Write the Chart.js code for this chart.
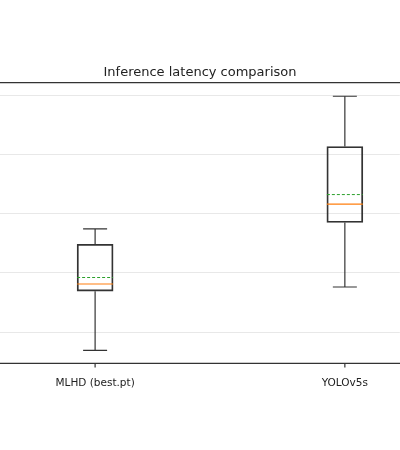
<!DOCTYPE html>
<html><head><meta charset="utf-8">
<script src="https://cdn.jsdelivr.net/npm/chart.js@4/dist/chart.umd.min.js"></script>
<style>html,body{margin:0;padding:0;background:#fff;overflow:hidden}#w{width:426px;height:450px;margin-left:-13px}</style>
</head><body><div id="w"><canvas id="c"></canvas></div>
<script>
const categories = ["MLHD (best.pt)", "YOLOv5s"];
const whiskerLow = [0.69, 1.76];
const q1 = [1.69, 2.85];
const medians = [1.81, 3.16];
const means = [1.92, 3.32];
const q3 = [2.48, 4.13];
const whiskerHigh = [2.74, 4.98];
const yTicks = [1, 2, 3, 4, 5];

const xs = categories.map((_, i) => i);
const seg = (a, b) => { const d = []; xs.forEach(i => { d.push({x:i,y:a[i]},{x:i,y:b[i]},{x:i+0.5,y:null}); }); return d; };
const hw = 0.072;
const meanData = []; xs.forEach(i => { meanData.push({x:i-hw,y:means[i]},{x:i+hw,y:means[i]},{x:i,y:null}); });
const medData = []; xs.forEach(i => { medData.push({x:i-hw,y:medians[i]},{x:i+hw,y:medians[i]},{x:i,y:null}); });
const capData = []; xs.forEach(i => { capData.push({x:i,y:whiskerLow[i]},{x:i,y:whiskerHigh[i]}); });

const topLine = { id:'topLine', afterDraw(ch){ const a=ch.chartArea, c=ch.ctx, sx=ch.scales.x; c.save(); c.strokeStyle='#333'; c.lineWidth=1.2; c.beginPath(); c.moveTo(0,a.top); c.lineTo(ch.width,a.top); c.moveTo(0,a.bottom); c.lineTo(ch.width,a.bottom);
  xs.forEach(i => { const px = sx.getPixelForValue(i); c.moveTo(px,a.bottom); c.lineTo(px,a.bottom+4); }); c.stroke(); c.restore(); } };

new Chart(document.getElementById('c'), {
  data: { datasets: [
    { type:'bar', data: xs.map(i => ({x:i, y:[q1[i], q3[i]]})), backgroundColor:'rgba(255,255,255,0)', borderColor:'#333', borderWidth:1.2, borderSkipped:false, barThickness:36, order:3 },
    { type:'line', data: seg(whiskerLow, q1), borderColor:'#333', borderWidth:1.2, pointRadius:0, spanGaps:false, order:4 },
    { type:'line', data: seg(q3, whiskerHigh), borderColor:'#333', borderWidth:1.2, pointRadius:0, spanGaps:false, order:4 },
    { type:'scatter', data: capData, pointStyle:'line', pointRadius:12, borderColor:'#333', borderWidth:1.2, order:4 },
    { type:'line', data: medData, borderColor:'#ff7f0e', borderWidth:1.2, pointRadius:0, spanGaps:false, order:1 },
    { type:'line', data: meanData, borderColor:'#2ca02c', borderWidth:1, borderDash:[3,2], pointRadius:0, spanGaps:false, order:1 }
  ]},
  options: {
    responsive:true, maintainAspectRatio:false, animation:false,
    layout:{ padding:{ top:65, bottom:54, left:0, right:0 } },
    plugins:{ legend:{display:false}, tooltip:{enabled:false},
      title:{ display:true, text:'Inference latency comparison', color:'#222', font:{family:'DejaVu Sans', size:13, weight:'normal'}, padding:{top:0,bottom:2} } },
    scales:{
      x:{ type:'linear', min:-0.38, max:1.22, offset:false,
        afterBuildTicks: s => { s.ticks = xs.map(v => ({value:v})); },
        ticks:{ callback: v => categories[v], color:'#222', font:{family:'DejaVu Sans', size:10.5}, padding:6, autoSkip:false, maxRotation:0 },
        grid:{ display:false },
        border:{ display:false } },
      y:{ min:0.47, max:5.21, display:true,
        afterBuildTicks: s => { s.ticks = yTicks.map(v => ({value:v})); },
        ticks:{ display:false },
        grid:{ color:'#e8e8e8', drawTicks:false },
        border:{ display:false } }
    }
  },
  plugins:[topLine]
});
</script></body></html>
